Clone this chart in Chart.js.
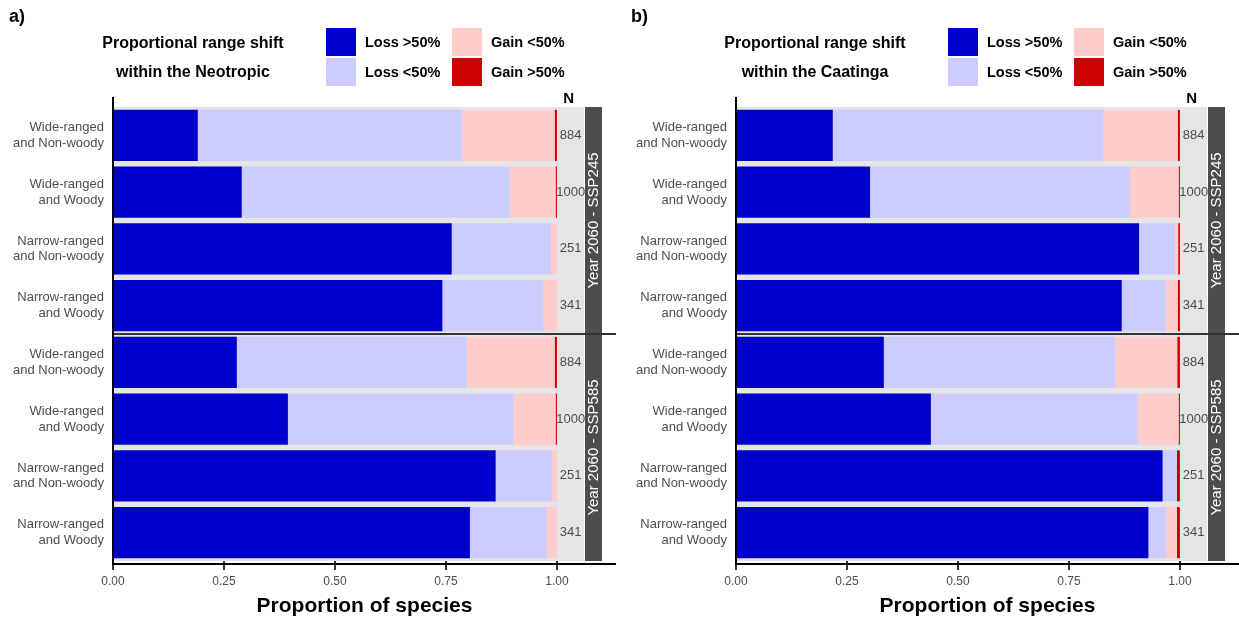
<!DOCTYPE html>
<html>
<head>
<meta charset="utf-8">
<script src="https://cdn.jsdelivr.net/npm/chart.js@4.4.1/dist/chart.umd.min.js"></script>
<style>
  body { margin: 0; background: #fff; font-family: "Liberation Sans", Arial, sans-serif; }
  #wrap { position: relative; width: 1239px; height: 620px; overflow: hidden; }
  canvas { position: absolute; top: 0; }
  .t { position: absolute; white-space: nowrap; color: #000; }
  .key { position: absolute; width: 30px; height: 28px; }
</style>
</head>
<body>
<div id="wrap">
  <canvas id="chartA" width="620" height="620" style="left:0"></canvas>
  <canvas id="chartB" width="619" height="620" style="left:620px"></canvas>
</div>
<script>
// categories (top to bottom), two facets of four rows
const rowLabels = [
  ['Wide-ranged', 'and Non-woody'], ['Wide-ranged', 'and Woody'],
  ['Narrow-ranged', 'and Non-woody'], ['Narrow-ranged', 'and Woody'],
  ['Wide-ranged', 'and Non-woody'], ['Wide-ranged', 'and Woody'],
  ['Narrow-ranged', 'and Non-woody'], ['Narrow-ranged', 'and Woody']
];
const scenarios = ['Year 2060 - SSP245', 'Year 2060 - SSP585'];
const nSpecies = [884, 1000, 251, 341, 884, 1000, 251, 341];
const xTicks = [0, 0.25, 0.5, 0.75, 1];
const seriesNames = ['Loss >50%', 'Loss <50%', 'Gain <50%', 'Gain >50%'];
const seriesColors = ['#0000CC', '#CCCCFF', '#FFCCCC', '#CC0000'];

// a) within the Neotropic
const neoLossHigh = [0.191, 0.290, 0.763, 0.742, 0.279, 0.394, 0.862, 0.804];
const neoLossLow  = [0.595, 0.604, 0.223, 0.228, 0.517, 0.508, 0.127, 0.173];
const neoGainLow  = [0.209, 0.103, 0.014, 0.030, 0.199, 0.095, 0.011, 0.023];
const neoGainHigh = [0.005, 0.003, 0, 0, 0.005, 0.003, 0, 0];

// b) within the Caatinga
const caaLossHigh = [0.218, 0.302, 0.908, 0.869, 0.333, 0.439, 0.961, 0.929];
const caaLossLow  = [0.610, 0.585, 0.081, 0.099, 0.522, 0.466, 0.032, 0.040];
const caaGainLow  = [0.167, 0.110, 0.007, 0.027, 0.139, 0.092, 0.000, 0.024];
const caaGainHigh = [0.005, 0.003, 0.004, 0.005, 0.006, 0.003, 0.007, 0.007];

const wrap = document.getElementById('wrap');
function addText(x, y, txt, css) {
  const d = document.createElement('div');
  d.className = 't';
  d.textContent = txt;
  d.style.left = x + 'px';
  d.style.top = y + 'px';
  Object.assign(d.style, css || {});
  wrap.appendChild(d);
  return d;
}

// panel letter + legend block
function addLegend(offset, letter, region) {
  addText(offset + 9, 6, letter, { font: 'bold 18px "Liberation Sans", Arial' });
  const tcss = { font: 'bold 16px "Liberation Sans", Arial', width: '240px', textAlign: 'center' };
  addText(offset + 73, 34, 'Proportional range shift', tcss);
  addText(offset + 73, 63, 'within the ' + region, tcss);
  const keyX = [offset + 326, offset + 326, offset + 452, offset + 452];
  const keyY = [28, 58, 28, 58];
  seriesNames.forEach((name, i) => {
    const k = document.createElement('div');
    k.className = 'key';
    k.style.left = keyX[i] + 'px';
    k.style.top = keyY[i] + 'px';
    k.style.background = seriesColors[i];
    wrap.appendChild(k);
    addText(keyX[i] + 39, keyY[i] + 6, name, { font: 'bold 14.5px "Liberation Sans", Arial' });
  });
}
addLegend(0, 'a)', 'Neotropic');
addLegend(622, 'b)', 'Caatinga');

const panelDecor = {
  id: 'panelDecor',
  beforeDraw(chart) {
    const a = chart.chartArea, ctx = chart.ctx;
    ctx.save();
    ctx.fillStyle = '#e5e5e5';
    ctx.fillRect(a.left, a.top, a.right - a.left, a.bottom - a.top);
    ctx.restore();
  },
  afterDraw(chart) {
    const a = chart.chartArea, ctx = chart.ctx;
    const xs = chart.scales.x, ys = chart.scales.y;
    const stripR = a.right + 18;
    const mid = ys.getPixelForValue(3.5);
    ctx.save();
    // facet strips
    ctx.fillStyle = '#4d4d4d';
    ctx.fillRect(a.right + 1, a.top, 17, a.bottom - a.top);
    ctx.fillStyle = '#fff';
    ctx.font = '15px "Liberation Sans", Arial';
    ctx.textAlign = 'center';
    ctx.textBaseline = 'middle';
    [[a.top, mid], [mid, a.bottom]].forEach((r, i) => {
      ctx.save();
      ctx.translate(a.right + 10, (r[0] + r[1]) / 2);
      ctx.rotate(-Math.PI / 2);
      ctx.fillText(scenarios[i], 0, 0);
      ctx.restore();
    });
    // separator between scenarios
    ctx.strokeStyle = '#333';
    ctx.lineWidth = 2;
    ctx.beginPath();
    ctx.moveTo(a.left, mid);
    ctx.lineTo(stripR + 14, mid);
    ctx.stroke();
    // N column
    const nx = xs.getPixelForValue(1.031);
    ctx.fillStyle = '#4d4d4d';
    ctx.font = '13px "Liberation Sans", Arial';
    nSpecies.forEach((n, i) => ctx.fillText(String(n), nx, ys.getPixelForValue(i)));
    ctx.fillStyle = '#000';
    ctx.font = 'bold 15px "Liberation Sans", Arial';
    ctx.fillText('N', nx - 2, a.top - 8);
    // axis title, centred on panel + strip
    ctx.font = 'bold 21px "Liberation Sans", Arial';
    ctx.fillText('Proportion of species', (a.left + stripR + 14) / 2, 606);
    // axis lines
    ctx.strokeStyle = '#000';
    ctx.lineWidth = 2;
    ctx.beginPath();
    ctx.moveTo(a.left, a.top - 10);
    ctx.lineTo(a.left, a.bottom + 4);
    ctx.moveTo(a.left - 1, a.bottom + 3);
    ctx.lineTo(stripR + 14, a.bottom + 3);
    ctx.stroke();
    ctx.restore();
  }
};

function makePanel(id, yWidth, rightPad, values) {
  const ctx = document.getElementById(id).getContext('2d');
  return new Chart(ctx, {
    type: 'bar',
    data: {
      labels: rowLabels,
      datasets: values.map((v, i) => ({
        label: seriesNames[i],
        data: v,
        backgroundColor: seriesColors[i],
        borderWidth: 0,
        barPercentage: 0.9,
        categoryPercentage: 1
      }))
    },
    options: {
      indexAxis: 'y',
      responsive: false,
      animation: false,
      layout: { padding: { top: 107, right: rightPad, left: 0, bottom: 0 } },
      scales: {
        x: {
          stacked: true,
          min: 0,
          max: 1.061,
          afterBuildTicks: s => { s.ticks = xTicks.map(v => ({ value: v })); },
          afterFit: s => { s.height = 59; },
          ticks: {
            color: '#4d4d4d',
            font: { size: 12, family: '"Liberation Sans", Arial' },
            padding: 4,
            callback: v => Number(v).toFixed(2)
          },
          grid: { display: true, drawOnChartArea: false, tickLength: 9, color: '#333', lineWidth: 2 },
          border: { display: false }
        },
        y: {
          stacked: true,
          afterFit: s => { s.width = yWidth; },
          ticks: {
            color: '#4d4d4d',
            font: { size: 13, family: '"Liberation Sans", Arial', lineHeight: 1.2 },
            padding: 1
          },
          grid: { display: false },
          border: { display: false }
        }
      },
      plugins: {
        legend: { display: false },
        tooltip: { enabled: false }
      }
    },
    plugins: [panelDecor]
  });
}

makePanel('chartA', 113, 36, [neoLossHigh, neoLossLow, neoGainLow, neoGainHigh]);
makePanel('chartB', 116, 32, [caaLossHigh, caaLossLow, caaGainLow, caaGainHigh]);
</script>
</body>
</html>
